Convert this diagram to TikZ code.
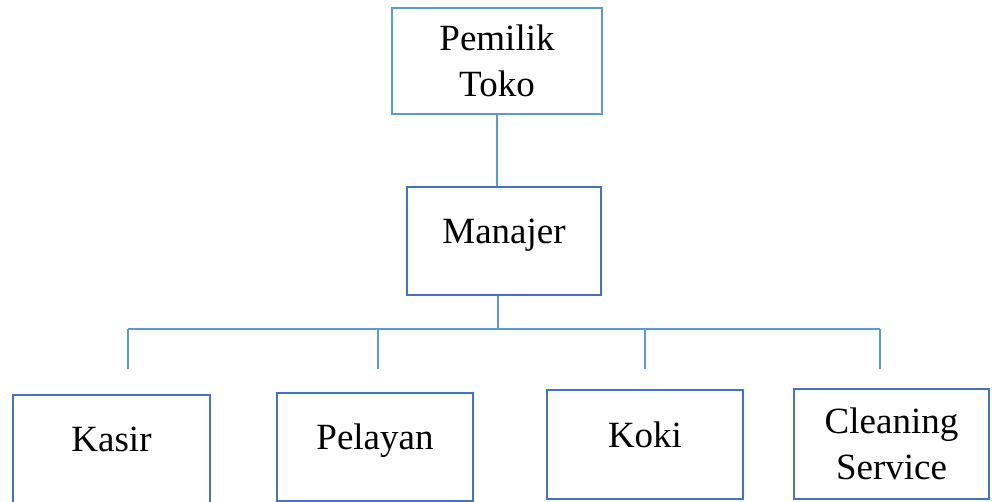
\documentclass[tikz,border=0pt]{standalone}
\usepackage{fontspec}
\setmainfont{Liberation Serif}
\definecolor{lightblue}{RGB}{91,155,213}
\definecolor{darkblue}{RGB}{68,114,196}

\begin{document}
\begin{tikzpicture}[x=1pt,y=-1pt,
box/.style={draw=darkblue, line width=2.4pt, font=\fontsize{37}{46}\selectfont, align=center, inner sep=0pt},
single/.style={text height=25pt, text depth=20pt},
link/.style={draw=lightblue, line width=1.3pt}]

\useasboundingbox (0,0) rectangle (992,502);

\node[box, draw=lightblue, minimum width=210, minimum height=106] (Pemilik) at (497,61) {Pemilik\\Toko};
\node[box, single, minimum width=194, minimum height=108] (Manajer) at (504,241) {Manajer};

\node[box, single, minimum width=197, minimum height=108] (Kasir) at (111.5,449) {Kasir};
\node[box, single, minimum width=196, minimum height=108] (Pelayan) at (375,447) {Pelayan};
\node[box, single, minimum width=196, minimum height=109] (Koki) at (645,444.5) {Koki};
\node[box, minimum width=195, minimum height=110] (Cleaning) at (891.5,444) {Cleaning\\Service};

\coordinate (Bus) at (498,329);
\coordinate (KasirTop) at (128,369);
\coordinate (PelayanTop) at (378,369);
\coordinate (KokiTop) at (645,369);
\coordinate (CleaningTop) at (880,369);

\draw[link] (Pemilik.south) -- (Pemilik.south |- Manajer.north);
\draw[link] (Bus |- Manajer.south) -- (Bus);
\draw[link] (KasirTop |- Bus) -- (CleaningTop |- Bus);

\foreach \v in {KasirTop, PelayanTop, KokiTop, CleaningTop}
{
    \draw[link] (\v |- Bus) -- (\v);
};

\end{tikzpicture}
\end{document}
